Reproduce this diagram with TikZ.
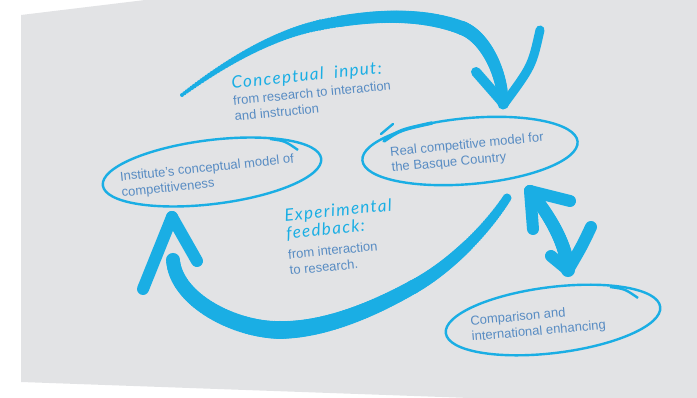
\documentclass[tikz,border=0pt]{standalone}
\usepackage{fontspec}
\setmainfont{Liberation Sans}
\newfontfamily\handfont[LetterSpace=8]{Lato}
\definecolor{bgGrey}{RGB}{226,227,229}
\definecolor{brushBlue}{RGB}{26,174,228}
\definecolor{textBlue}{RGB}{88,140,195}
\newcommand\hnd{\handfont\itshape\fontsize{17}{18}\selectfont\color{brushBlue}}
\tikzset{
  barb/.style={draw=brushBlue, line width=#1, line cap=round},
  ring/.style={draw=brushBlue, line width=2.4pt},
  lbl/.style={font=\fontsize{13}{16}\selectfont, text=textBlue, inner sep=0pt, anchor=base west, align=left},
}
% tapered brush segment: start, control 1, control 2, end, width at start, width at end
\newcommand\brushseg[6]{%
  \foreach \bt in {0,0.02,...,1.001}{%
    \pgfmathsetmacro\br{(#5+(#6-#5)*\bt)/2}%
    \path (#1) .. controls (#2) and (#3) .. (#4) coordinate[pos=\bt] (bp);
    \fill[brushBlue] (bp) circle[radius=\br pt];
  }%
}
\begin{document}
\begin{tikzpicture}[x=1pt,y=-1pt]
\useasboundingbox (0,0) rectangle (697,398);
\fill[bgGrey] (21,15) -- (145,0) -- (697,0) -- (697,398) -- (470,398) -- (21,382) -- cycle;

% ellipses
\coordinate (cL) at (212,172);
\coordinate (cR) at (470,151);
\coordinate (cB) at (553,320);
\draw[ring, rotate around={7:(cL)}] (cL) ellipse[x radius=110, y radius=32];
\draw[ring] (270,139) .. controls (285,141) .. (298,150);
\draw[ring, rotate around={5:(cR)}] (cR) ellipse[x radius=108, y radius=33];
\draw[brushBlue, line width=3.5pt, line cap=round] (384,141) .. controls (400,130) .. (432,123);
\draw[ring, line cap=round] (393,124) -- (381,134);
\draw[ring, rotate around={7:(cB)}] (cB) ellipse[x radius=108, y radius=33];
\draw[ring] (610,287) .. controls (625,289) .. (638,298);

% top arrow
\brushseg{182,95}{222,65}{271,35}{320,25}{4}{11}
\brushseg{320,25}{369,15}{420,12}{462,28}{11}{14}
\brushseg{462,28}{485.5,36.75}{503,74}{503,104}{14}{11}
\coordinate (tTip) at (504,104);
\draw[barb=10pt] (476,72) -- (tTip);
\draw[barb=9pt] (540,30) .. controls (532,66) .. (tTip);

% bottom arrow
\brushseg{507,198}{485,232}{448,268}{413,287}{9}{14}
\brushseg{413,287}{374,309}{325,330}{280,330}{14}{18}
\brushseg{280,330}{235,330}{176,300}{173,260}{18}{14}
\coordinate (bTip) at (172,217);
\draw[barb=12pt] (bTip) -- (143,289);
\draw[barb=12pt] (bTip) -- (197,261);

% double arrow
\coordinate (dUp) at (530,191);
\coordinate (dDn) at (568,270);
\brushseg{530,191}{545,210}{566,240}{568,270}{12}{14}
\draw[barb=12pt] (dUp) -- (533,229);
\draw[barb=12pt] (dUp) -- (570,201);
\draw[barb=12pt] (dDn) -- (551,256);
\draw[barb=12pt] (dDn) .. controls (582,246) .. (591,227);

% texts (anchor = baseline of the last line)
\node[lbl, rotate=5.5] (ci) at (235,121) {{\hnd Conceptual\hspace{5pt} input:}\\[1pt]from research to interaction\\and instruction};
\node[lbl, rotate=6] (inst) at (122,197) {Institute's conceptual model of\\competitiveness};
\node[lbl, rotate=5.5] (real) at (392,172) {Real competitive model for\\the Basque Country};
\node[lbl, rotate=5.5] (ef) at (290,275) {{\hnd Experimental}\\[2pt]{\hnd feedback:}\\[4pt]from interaction\\to research.};
\node[lbl, rotate=5] (comp) at (472,341) {Comparison and\\international enhancing};
\end{tikzpicture}
\end{document}
